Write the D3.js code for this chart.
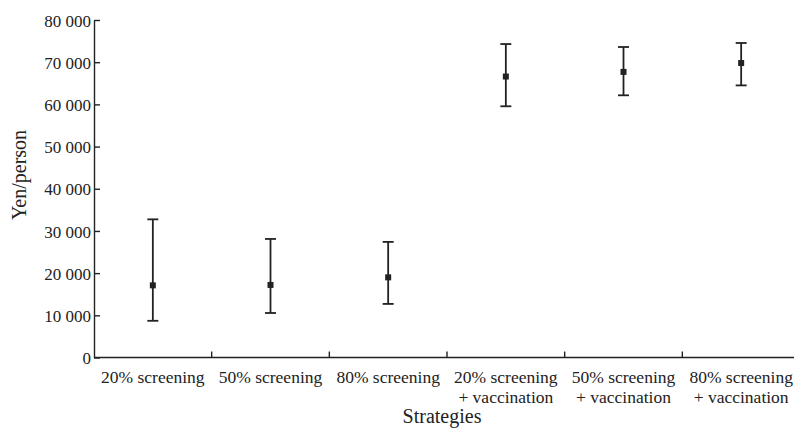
<!DOCTYPE html>
<html>
<head>
<meta charset="utf-8">
<script src="https://cdn.jsdelivr.net/npm/d3@7"></script>
<style>
	body { margin: 0; background: #fff; }
	svg { display: block; font-family: 'Liberation Serif', 'Times New Roman', serif; }
	.axis path, .axis line { stroke: #222; stroke-width: 1.4; }
	.axis text { fill: #222; font-size: 17px; font-family: 'Liberation Serif', 'Times New Roman', serif; }
	.axis text.lab { font-size: 17.5px; }
</style>
</head>
<body>
<script>
// strategies on the x axis (second line of the label, if any)
var strategies = ["20% screening", "50% screening", "80% screening",
	"20% screening", "50% screening", "80% screening"];
var subLabels = ["", "", "", "+ vaccination", "+ vaccination", "+ vaccination"];

// mean cost and error bar ends (yen/person)
var means = [17100, 17200, 19000, 66600, 67700, 69800];
var lows = [8700, 10550, 12700, 59550, 62150, 64500];
var highs = [32750, 28100, 27400, 74300, 73600, 74550];

var yTicks = [0, 10000, 20000, 30000, 40000, 50000, 60000, 70000, 80000];

var W = 794, H = 435;
var margin = { top: 20, right: -6, bottom: 77.5, left: 94 };
var width = W - margin.left - margin.right,
	height = H - margin.top - margin.bottom;

var svg = d3.select("body").append("svg")
	.attr("width", W)
	.attr("height", H);

var g = svg.append("g")
	.attr("transform", "translate(" + margin.left + "," + margin.top + ")");

var keys = strategies.map(function (d, i) { return i; });

var x = d3.scaleBand()
	.domain(keys)
	.range([0, width]);

var y = d3.scaleLinear()
	.domain([0, 80000])
	.range([height, 0]);

var fmt = function (d) { return d3.format(",")(d).replace(",", " "); };

// y axis, ticks pointing inward
var yAxis = g.append("g")
	.attr("class", "axis")
	.call(d3.axisLeft(y).tickValues(yTicks).tickSize(-6).tickPadding(3).tickSizeOuter(0).tickFormat(fmt));
yAxis.attr("font-family", null).attr("font-size", null);
yAxis.selectAll("text").attr("dy", "0.36em");

// x axis line with ticks on band boundaries
var xAxis = g.append("g").attr("class", "axis");
xAxis.append("line")
	.attr("x1", 0).attr("x2", width)
	.attr("y1", height).attr("y2", height);
xAxis.selectAll("line.tick")
	.data(keys.slice(1))
	.enter().append("line")
	.attr("class", "tick")
	.attr("x1", function (d) { return x(d); })
	.attr("x2", function (d) { return x(d); })
	.attr("y1", height)
	.attr("y2", height - 6);

xAxis.selectAll("text.lab1")
	.data(keys)
	.enter().append("text")
	.attr("class", "lab")
	.attr("text-anchor", "middle")
	.attr("x", function (d) { return x(d) + x.bandwidth() / 2; })
	.attr("y", height + 25.5)
	.text(function (d) { return strategies[d]; });

xAxis.selectAll("text.lab2")
	.data(keys.filter(function (d) { return subLabels[d]; }))
	.enter().append("text")
	.attr("class", "lab")
	.attr("text-anchor", "middle")
	.attr("x", function (d) { return x(d) + x.bandwidth() / 2; })
	.attr("y", height + 45)
	.text(function (d) { return subLabels[d]; });

// axis titles
svg.append("text")
	.attr("text-anchor", "middle")
	.attr("x", 442)
	.attr("y", 423)
	.attr("fill", "#222")
	.style("font-size", "20px")
	.text("Strategies");

svg.append("text")
	.attr("text-anchor", "middle")
	.attr("transform", "translate(26,175) rotate(-90)")
	.attr("fill", "#222")
	.style("font-size", "20px")
	.text("Yen/person");

// error bars
var bars = g.selectAll("g.err")
	.data(keys)
	.enter().append("g")
	.attr("class", "err")
	.attr("transform", function (d) { return "translate(" + (x(d) + x.bandwidth() / 2) + ",0)"; });

bars.append("line")
	.attr("y1", function (d) { return y(lows[d]); })
	.attr("y2", function (d) { return y(highs[d]); })
	.attr("stroke", "#222").attr("stroke-width", 1.8);
bars.append("line")
	.attr("x1", -5.5).attr("x2", 5.5)
	.attr("y1", function (d) { return y(highs[d]); })
	.attr("y2", function (d) { return y(highs[d]); })
	.attr("stroke", "#222").attr("stroke-width", 1.8);
bars.append("line")
	.attr("x1", -5.5).attr("x2", 5.5)
	.attr("y1", function (d) { return y(lows[d]); })
	.attr("y2", function (d) { return y(lows[d]); })
	.attr("stroke", "#222").attr("stroke-width", 1.8);
bars.append("rect")
	.attr("x", -3).attr("width", 6)
	.attr("y", function (d) { return y(means[d]) - 3; })
	.attr("height", 6)
	.attr("fill", "#222");
</script>
</body>
</html>
